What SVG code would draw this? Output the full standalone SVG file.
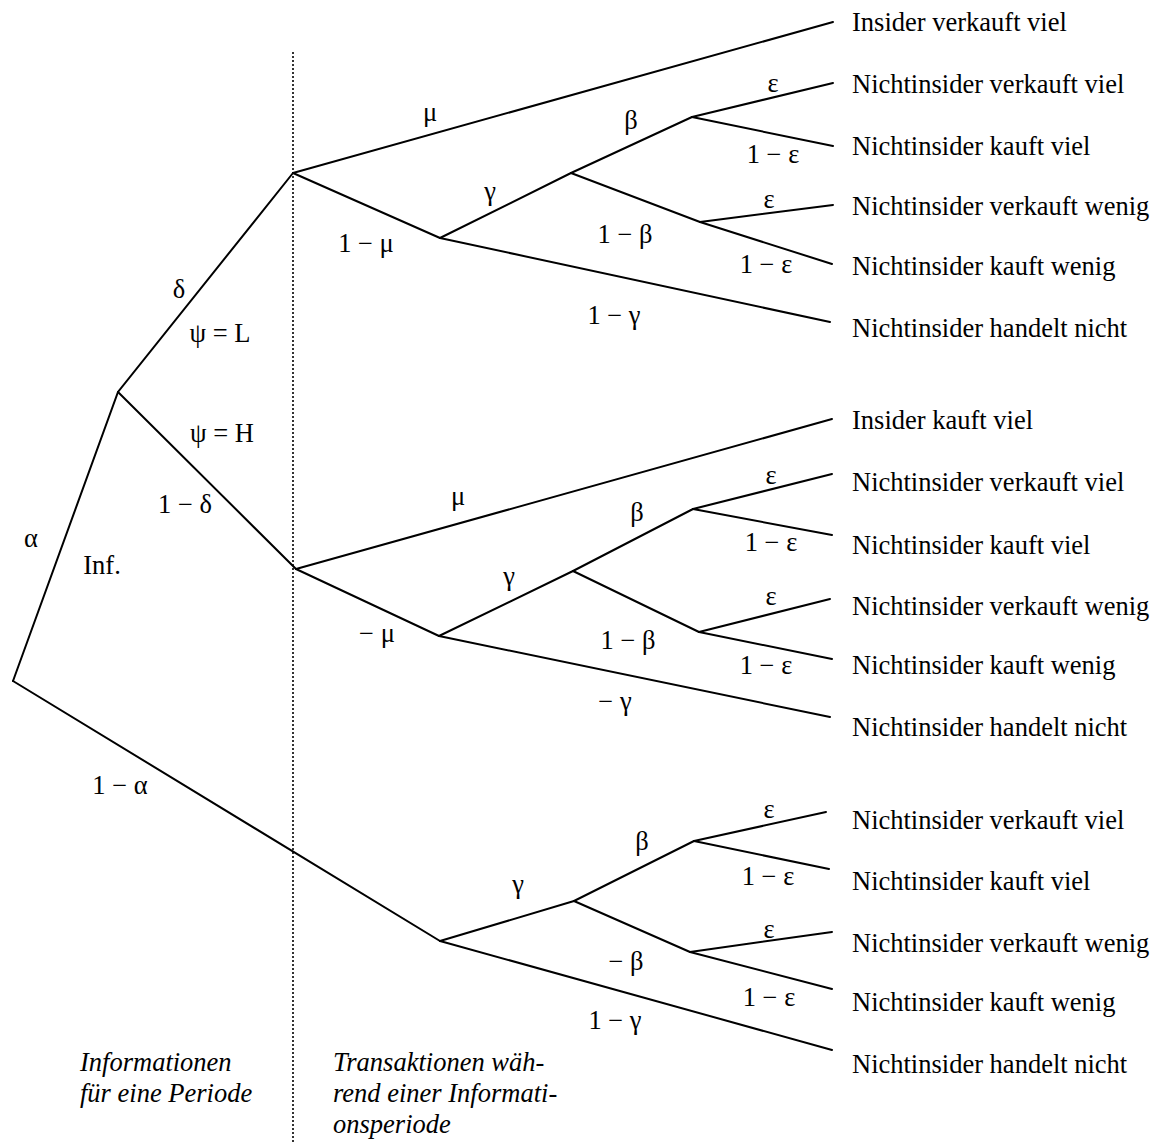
<svg xmlns="http://www.w3.org/2000/svg" width="1162" height="1142" viewBox="0 0 1162 1142">
<style>
.e{stroke:#000;stroke-width:2;fill:none;stroke-linecap:round}
.d{stroke:#000;stroke-width:1.6;stroke-dasharray:2 2;fill:none}
text{font-family:"Liberation Serif","Times New Roman",serif;font-size:26.5px;fill:#000}
.l{text-anchor:middle}
.i{font-style:italic}
</style>
<rect width="1162" height="1142" fill="#fff"/>
<line class="d" x1="293" y1="52" x2="293" y2="1142"/>
<g id="connectors">
<polyline class="e" points="13,681 118,392 293,173"/>
<line class="e" x1="118" y1="392" x2="296" y2="569"/>
<line class="e" x1="13" y1="681" x2="440" y2="941"/>
<line class="e" x1="293" y1="173" x2="833" y2="22"/>
<line class="e" x1="293" y1="173" x2="440" y2="238"/>
<line class="e" x1="440" y1="238" x2="571" y2="173"/>
<line class="e" x1="440" y1="238" x2="830" y2="322"/>
<line class="e" x1="571" y1="173" x2="692" y2="117"/>
<line class="e" x1="571" y1="173" x2="700" y2="222"/>
<line class="e" x1="692" y1="117" x2="833" y2="83"/>
<line class="e" x1="692" y1="117" x2="833" y2="146"/>
<line class="e" x1="700" y1="222" x2="833" y2="205"/>
<line class="e" x1="700" y1="222" x2="832" y2="264"/>
<line class="e" x1="296" y1="569" x2="832" y2="419"/>
<line class="e" x1="296" y1="569" x2="439" y2="636"/>
<line class="e" x1="439" y1="636" x2="573" y2="571"/>
<line class="e" x1="439" y1="636" x2="830" y2="717"/>
<line class="e" x1="573" y1="571" x2="693" y2="509"/>
<line class="e" x1="573" y1="571" x2="699" y2="632"/>
<line class="e" x1="693" y1="509" x2="832" y2="474"/>
<line class="e" x1="693" y1="509" x2="832" y2="535"/>
<line class="e" x1="699" y1="632" x2="830" y2="599"/>
<line class="e" x1="699" y1="632" x2="832" y2="659"/>
<line class="e" x1="440" y1="941" x2="574" y2="901"/>
<line class="e" x1="440" y1="941" x2="832" y2="1050"/>
<line class="e" x1="574" y1="901" x2="694" y2="841"/>
<line class="e" x1="574" y1="901" x2="690" y2="952"/>
<line class="e" x1="694" y1="841" x2="826" y2="812"/>
<line class="e" x1="694" y1="841" x2="829" y2="869"/>
<line class="e" x1="690" y1="952" x2="832" y2="932"/>
<line class="e" x1="690" y1="952" x2="832" y2="989"/>
</g>
<g id="labels-left">
<text class="l" x="31" y="547">α</text>
<text class="l" x="102" y="574">Inf.</text>
<text class="l" x="179" y="298">δ</text>
<text class="l" x="220" y="342">ψ = L</text>
<text class="l" x="222" y="442">ψ = H</text>
<text class="l" x="185" y="513">1 − δ</text>
<text class="l" x="120" y="794">1 − α</text>
</g>
<g id="labels-upper">
<text class="l" x="430" y="121">μ</text>
<text class="l" x="366" y="252">1 − μ</text>
<text class="l" x="490" y="200">γ</text>
<text class="l" x="631" y="129">β</text>
<text class="l" x="625" y="243">1 − β</text>
<text class="l" x="614" y="324">1 − γ</text>
<text class="l" x="773" y="92">ε</text>
<text class="l" x="773" y="163">1 − ε</text>
<text class="l" x="769" y="208">ε</text>
<text class="l" x="766" y="273">1 − ε</text>
</g>
<g id="labels-middle">
<text class="l" x="458" y="505">μ</text>
<text class="l" x="377" y="642">− μ</text>
<text class="l" x="509" y="585">γ</text>
<text class="l" x="637" y="521">β</text>
<text class="l" x="628" y="649">1 − β</text>
<text class="l" x="615" y="710">− γ</text>
<text class="l" x="771" y="484">ε</text>
<text class="l" x="771" y="551">1 − ε</text>
<text class="l" x="771" y="605">ε</text>
<text class="l" x="766" y="674">1 − ε</text>
</g>
<g id="labels-lower">
<text class="l" x="518" y="893">γ</text>
<text class="l" x="642" y="850">β</text>
<text class="l" x="626" y="970">− β</text>
<text class="l" x="615" y="1029">1 − γ</text>
<text class="l" x="769" y="818">ε</text>
<text class="l" x="768" y="885">1 − ε</text>
<text class="l" x="769" y="938">ε</text>
<text class="l" x="769" y="1006">1 − ε</text>
</g>
<g id="leaves-upper">
<text x="852" y="31">Insider verkauft viel</text>
<text x="852" y="93">Nichtinsider verkauft viel</text>
<text x="852" y="155">Nichtinsider kauft viel</text>
<text x="852" y="215">Nichtinsider verkauft wenig</text>
<text x="852" y="275">Nichtinsider kauft wenig</text>
<text x="852" y="337">Nichtinsider handelt nicht</text>
</g>
<g id="leaves-middle">
<text x="852" y="429">Insider kauft viel</text>
<text x="852" y="491">Nichtinsider verkauft viel</text>
<text x="852" y="554">Nichtinsider kauft viel</text>
<text x="852" y="615">Nichtinsider verkauft wenig</text>
<text x="852" y="674">Nichtinsider kauft wenig</text>
<text x="852" y="736">Nichtinsider handelt nicht</text>
</g>
<g id="leaves-lower">
<text x="852" y="829">Nichtinsider verkauft viel</text>
<text x="852" y="890">Nichtinsider kauft viel</text>
<text x="852" y="952">Nichtinsider verkauft wenig</text>
<text x="852" y="1011">Nichtinsider kauft wenig</text>
<text x="852" y="1073">Nichtinsider handelt nicht</text>
</g>
<g id="captions">
<text class="i" x="80" y="1071">Informationen</text>
<text class="i" x="80" y="1102">für eine Periode</text>
<text class="i" x="333" y="1071">Transaktionen wäh-</text>
<text class="i" x="333" y="1102">rend einer Informati-</text>
<text class="i" x="333" y="1133">onsperiode</text>
</g>
</svg>
